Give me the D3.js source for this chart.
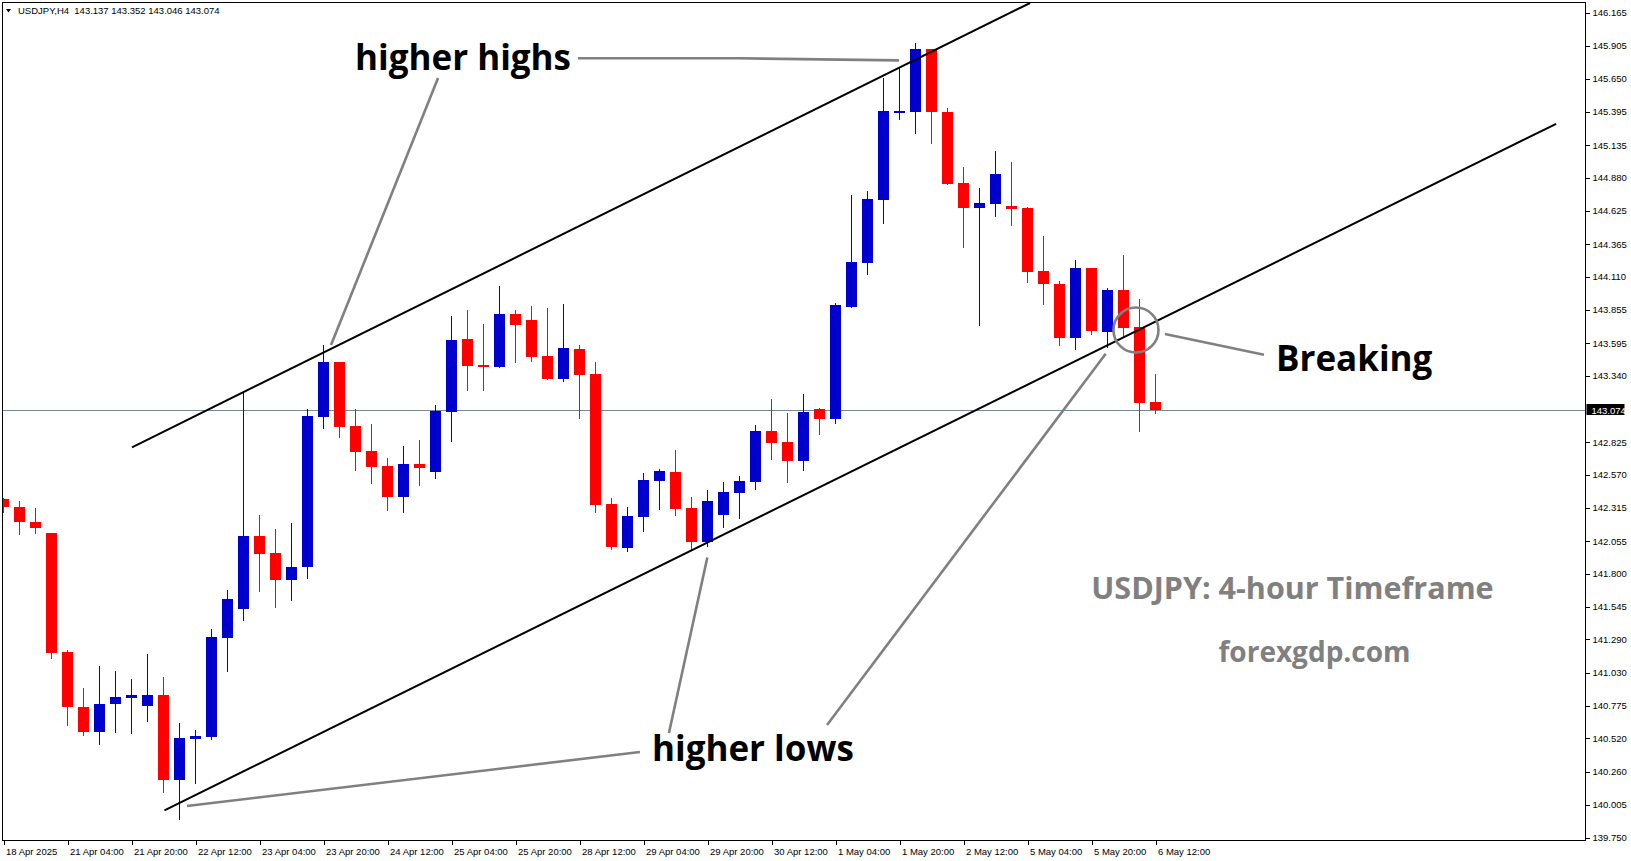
<!DOCTYPE html>
<html><head><meta charset="utf-8">
<script src="https://cdn.jsdelivr.net/npm/d3@7"></script>
<style>html,body{margin:0;padding:0;background:#fff;overflow:hidden}</style>
</head><body>
<svg id="chart" width="1631" height="861"></svg>
<script>
// ---------------- data ----------------
const symbolLabel = "USDJPY,H4";
const opens  = [142.382,142.320,142.203,142.118,141.192,140.765,140.572,140.790,140.837,140.775,
                140.858,140.199,140.518,140.534,141.303,141.529,142.094,141.959,141.749,141.853,
                143.022,143.447,142.950,142.755,142.639,142.400,142.654,142.594,143.061,143.626,
                143.424,143.411,143.820,143.774,143.494,143.317,143.548,143.354,142.343,142.003,
                142.244,142.524,142.592,142.312,142.050,142.260,142.431,142.516,142.911,142.825,
                142.680,143.082,143.006,143.877,144.219,144.709,145.397,145.394,145.881,145.391,
                144.837,144.647,144.678,144.663,144.645,144.155,144.054,143.636,144.178,143.683,
                144.007,143.722,143.137];
const highs  = [142.390,142.366,142.312,142.120,141.208,140.912,141.083,141.044,140.982,141.177,
                140.998,140.640,140.588,141.371,141.674,143.216,142.258,142.151,142.195,143.079,
                143.579,143.450,143.079,142.965,142.701,142.794,142.841,143.113,143.805,143.852,
                143.743,144.038,143.852,143.883,143.867,143.898,143.579,143.447,142.390,142.320,
                142.584,142.615,142.763,142.398,142.452,142.514,142.561,142.957,143.160,143.051,
                143.198,143.090,143.906,144.746,144.777,145.658,145.744,145.928,145.885,145.422,
                144.964,144.800,145.088,145.002,144.650,144.427,144.079,144.240,144.180,144.023,
                144.279,143.937,143.352];
const lows   = [142.271,142.102,142.112,141.140,140.619,140.541,140.471,140.565,140.557,140.650,
                140.098,139.888,140.168,140.510,141.039,141.436,141.661,141.538,141.589,141.760,
                142.929,142.859,142.602,142.501,142.291,142.275,142.485,142.540,142.828,143.224,
                143.224,143.400,143.442,143.450,143.310,143.294,143.002,142.275,141.988,141.972,
                142.128,142.299,142.252,141.985,142.011,142.159,142.229,142.454,142.688,142.509,
                142.602,142.882,142.967,143.867,144.126,144.523,145.331,145.223,145.145,144.826,
                144.336,143.730,144.577,144.507,144.064,143.891,143.574,143.543,143.660,143.558,
                143.644,142.905,143.046];
const closes = [142.322,142.205,142.159,141.187,140.767,140.572,140.788,140.842,140.858,140.858,
                140.199,140.523,140.541,141.311,141.607,142.094,141.957,141.749,141.853,143.027,
                143.447,142.944,142.750,142.633,142.400,142.654,142.625,143.066,143.618,143.418,
                143.416,143.820,143.737,143.488,143.317,143.556,143.349,142.338,142.011,142.250,
                142.530,142.600,142.307,142.050,142.366,142.436,142.522,142.911,142.820,142.680,
                143.058,143.006,143.890,144.225,144.715,145.399,145.401,145.881,145.394,144.834,
                144.639,144.684,144.909,144.639,144.149,144.056,143.636,144.178,143.691,144.007,
                143.714,143.131,143.074];
const priceTicks = [146.165,145.905,145.650,145.395,145.135,144.880,144.625,144.365,144.110,143.855,
                    143.595,143.340,142.825,142.570,142.315,142.055,141.800,141.545,141.290,141.030,
                    140.775,140.520,140.260,140.005,139.750];
const timeTickLabels = ["18 Apr 2025","21 Apr 04:00","21 Apr 20:00","22 Apr 12:00","23 Apr 04:00",
                        "23 Apr 20:00","24 Apr 12:00","25 Apr 04:00","25 Apr 20:00","28 Apr 12:00",
                        "29 Apr 04:00","29 Apr 20:00","30 Apr 12:00","1 May 04:00","1 May 20:00",
                        "2 May 12:00","5 May 04:00","5 May 20:00","6 May 12:00"];
const barsPerTimeTick = 4;
const lastPrice = 143.074;
// channel lines: [barIndex, price]
const upperChannel = [[8.03,142.784],[64.16,146.239]];
const lowerChannel = [[10.06,139.961],[97.04,145.299]];
// grey pointer lines: [barIndex, price]
const pointerLines = [
  [[35.90,145.809],[45.94,145.809],[55.97,145.793]],
  [[27.16,145.656],[20.47,143.579]],
  [[39.78,140.415],[11.47,139.995]],
  [[41.59,140.562],[43.99,141.927]],
  [[51.47,140.625],[68.89,143.512]],
  [[72.59,143.665],[78.78,143.504]]
];
const breakPoint = [70.78,143.696];
const notes = [
  {text:"higher highs", at:[21.97,145.718], anchor:"start"},
  {text:"higher lows",  at:[40.53,140.341], anchor:"start"},
  {text:"Breaking",     at:[79.53,143.377], anchor:"start"}
];
const captions = [
  {text:"USDJPY: 4-hour Timeframe", at:[80.56,141.604]},
  {text:"forexgdp.com",             at:[81.94,141.114]}
];

// ---------------- layout ----------------
const W = 1631, H = 861;
const frame = {left:2.5, top:2.5, right:1585.5, bottom:840.5};
const svg = d3.select("#chart");
const n = opens.length;
const x = d3.scaleLinear().domain([0, n-1]).range([3.5, 3.5 + 16*(n-1)]);
const y = d3.scaleLinear().domain([139.750, 146.165]).range([837.5, 12.5]);
const bodyW = 11;
const bull = "#0000cc", bear = "#ff0000";

svg.append("rect").attr("width",W).attr("height",H).attr("fill","#fff");

svg.append("defs").append("clipPath").attr("id","plot")
  .append("rect").attr("x",frame.left+0.5).attr("y",frame.top+0.5)
  .attr("width",frame.right-frame.left-1).attr("height",frame.bottom-frame.top-1);

const plot = svg.append("g").attr("clip-path","url(#plot)");

// bid line
plot.append("line")
  .attr("x1",frame.left).attr("x2",frame.right)
  .attr("y1",Math.round(y(lastPrice))+0.5).attr("y2",Math.round(y(lastPrice))+0.5)
  .attr("stroke","#778899").attr("stroke-width",1);

// candles
const idx = d3.range(n);
const cg = plot.append("g").attr("shape-rendering","crispEdges");
cg.selectAll("line.wick").data(idx).join("line")
  .attr("class","wick")
  .attr("x1",i=>x(i)).attr("x2",i=>x(i))
  .attr("y1",i=>y(highs[i])).attr("y2",i=>y(lows[i]))
  .attr("stroke",i=>closes[i]>=opens[i]?bull:bear).attr("stroke-width",1);
cg.selectAll("rect.body").data(idx).join("rect")
  .attr("class","body")
  .attr("x",i=>x(i)-bodyW/2)
  .attr("width",bodyW)
  .attr("y",i=>Math.round(y(Math.max(opens[i],closes[i]))))
  .attr("height",i=>Math.max(1.5,Math.round(Math.abs(y(opens[i])-y(closes[i])))))
  .attr("fill",i=>closes[i]>=opens[i]?bull:bear);

// channel lines
const line = d3.line().x(d=>x(d[0])).y(d=>y(d[1]));
plot.selectAll("path.chan").data([upperChannel,lowerChannel]).join("path")
  .attr("class","chan").attr("d",line).attr("fill","none")
  .attr("stroke","#000").attr("stroke-width",2);

// grey pointers
plot.selectAll("path.ptr").data(pointerLines).join("path")
  .attr("class","ptr").attr("d",line).attr("fill","none")
  .attr("stroke","#808080").attr("stroke-width",2.6);

plot.append("circle").attr("cx",x(breakPoint[0])).attr("cy",y(breakPoint[1]))
  .attr("r",22.5).attr("fill","none").attr("stroke","#808080").attr("stroke-width",2.6);

// annotation texts
plot.selectAll("text.note").data(notes).join("text")
  .attr("class","note")
  .attr("x",d=>x(d.at[0])).attr("y",d=>y(d.at[1]))
  .attr("text-anchor",d=>d.anchor)
  .attr("font-family","'Open Sans', 'Noto Sans', sans-serif")
  .attr("font-weight",700).attr("font-size",35).attr("fill","#000")
  .text(d=>d.text);

plot.selectAll("text.cap").data(captions).join("text")
  .attr("class","cap")
  .attr("x",d=>x(d.at[0])).attr("y",d=>y(d.at[1]))
  .attr("text-anchor","middle")
  .attr("font-family","'Open Sans', 'Noto Sans', sans-serif")
  .attr("font-weight",700).attr("font-size",(d,i)=>i===0?30.5:28).attr("fill","#808080")
  .text(d=>d.text);

// frame
svg.append("rect").attr("x",frame.left).attr("y",frame.top)
  .attr("width",frame.right-frame.left).attr("height",frame.bottom-frame.top)
  .attr("fill","none").attr("stroke","#000").attr("stroke-width",1)
  .attr("shape-rendering","crispEdges");

// right price axis
const axisFont = "'Liberation Sans', Arial, sans-serif";
const ya = svg.append("g").attr("transform",`translate(${frame.right},0)`)
  .call(d3.axisRight(y).tickValues(priceTicks).tickSize(4).tickPadding(3)
        .tickFormat(d3.format(".3f")));
ya.select(".domain").remove();
ya.selectAll("line").attr("stroke","#000").attr("shape-rendering","crispEdges");
ya.selectAll("text").attr("font-family",axisFont).attr("font-size",9.5).attr("fill","#000");

// last price label
const lp = svg.append("g").attr("transform",`translate(${frame.right+1},${Math.round(y(lastPrice))})`);
lp.append("rect").attr("x",0).attr("y",-6).attr("width",38).attr("height",11).attr("fill","#000");
lp.append("text").attr("x",5).attr("y",3.5).attr("font-family",axisFont).attr("font-size",9.5)
  .attr("fill","#fff").text(d3.format(".3f")(lastPrice));

// bottom time axis
const timeTicks = d3.range(0, n, barsPerTimeTick);
const xa = svg.append("g").attr("transform",`translate(0,${frame.bottom})`)
  .call(d3.axisBottom(x).tickValues(timeTicks).tickSize(4).tickPadding(4)
        .tickFormat((d,i)=>timeTickLabels[i]));
xa.select(".domain").remove();
xa.selectAll("line").attr("stroke","#000").attr("shape-rendering","crispEdges");
xa.selectAll("text").attr("font-family",axisFont).attr("font-size",9.5).attr("fill","#000")
  .attr("text-anchor","start").attr("dx",2);

// header
svg.append("path").attr("d","M6,9 L11,9 L8.5,12.5 Z").attr("fill","#000");
svg.append("text").attr("x",18).attr("y",14).attr("font-family",axisFont).attr("font-size",9.5)
  .attr("fill","#000").attr("xml:space","preserve")
  .text(`${symbolLabel}  ${d3.format(".3f")(opens[n-1])} ${d3.format(".3f")(highs[n-1])} ${d3.format(".3f")(lows[n-1])} ${d3.format(".3f")(closes[n-1])}`);
</script>
</body></html>
